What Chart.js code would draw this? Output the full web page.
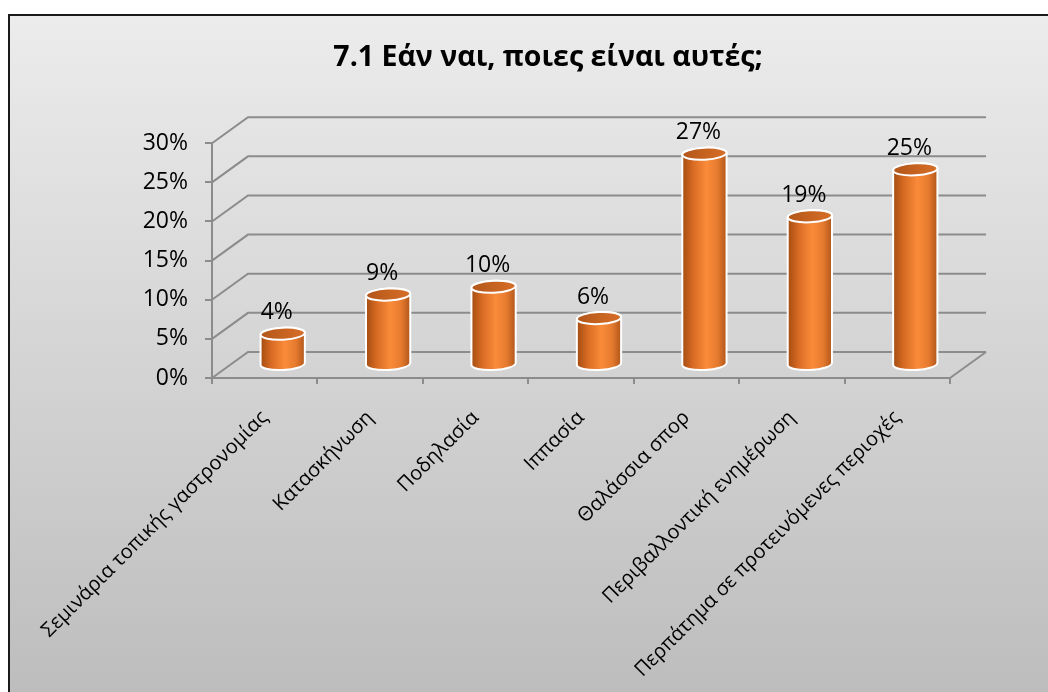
<!DOCTYPE html>
<html>
<head>
<meta charset="utf-8">
<script src="https://cdn.jsdelivr.net/npm/chart.js@4.4.1/dist/chart.umd.min.js"></script>
<style>
  html, body { margin: 0; padding: 0; background: #ffffff; }
  #wrap { width: 1048px; height: 692px; position: relative; }
</style>
</head>
<body>
<div id="wrap"><canvas id="c" width="1048" height="692"></canvas></div>
<script>
const chartTitle = '7.1 Εάν ναι, ποιες είναι αυτές;';
const categories = [
  'Σεμινάρια τοπικής γαστρονομίας',
  'Κατασκήνωση',
  'Ποδηλασία',
  'Ιππασία',
  'Θαλάσσια σπορ',
  'Περιβαλλοντική ενημέρωση',
  'Περπάτημα σε προτεινόμενες περιοχές'
];
const values = [0.04, 0.09, 0.10, 0.06, 0.27, 0.19, 0.25];
const valueLabels = ['4%', '9%', '10%', '6%', '27%', '19%', '25%'];
const yTickValues = [0, 0.05, 0.10, 0.15, 0.20, 0.25, 0.30];
const yTickLabels = ['0%', '5%', '10%', '15%', '20%', '25%', '30%'];

const FONT = "'Open Sans', 'DejaVu Sans', sans-serif";
const GRID = '#8c8c8c';
const DEPTH_X = 36, DEPTH_Y = -26;

const framePlugin = {
  id: 'frame',
  beforeDraw(chart) {
    const ctx = chart.ctx;
    ctx.save();
    ctx.fillStyle = '#ffffff';
    ctx.fillRect(0, 0, chart.width, chart.height);
    const g = ctx.createLinearGradient(0, 14, 0, chart.height);
    g.addColorStop(0, '#ececec');
    g.addColorStop(1, '#bdbdbd');
    ctx.fillStyle = g;
    ctx.fillRect(8, 14, chart.width, chart.height);
    ctx.strokeStyle = '#1a1a1a';
    ctx.lineWidth = 2;
    ctx.beginPath();
    ctx.moveTo(9, chart.height + 2);
    ctx.lineTo(9, 15);
    ctx.lineTo(chart.width + 2, 15);
    ctx.stroke();
    ctx.restore();
  }
};

const gridPlugin = {
  id: 'grid3d',
  beforeDatasetsDraw(chart) {
    const ctx = chart.ctx;
    const ys = chart.scales.y;
    const a = chart.chartArea;
    ctx.save();
    ctx.strokeStyle = GRID;
    ctx.lineWidth = 2;
    yTickValues.forEach(v => {
      const yf = ys.getPixelForValue(v);
      ctx.beginPath();
      ctx.moveTo(a.left, yf);
      ctx.lineTo(a.left + DEPTH_X, yf + DEPTH_Y);
      ctx.lineTo(a.right + DEPTH_X, yf + DEPTH_Y);
      ctx.stroke();
    });
    const yb = ys.getPixelForValue(0);
    ctx.beginPath();
    ctx.moveTo(a.right, yb);
    ctx.lineTo(a.right + DEPTH_X, yb + DEPTH_Y);
    ctx.stroke();
    ctx.restore();
  }
};

function drawCylinder(ctx, cx, topY, botY, r, ry) {
  const tilt = -0.05;
  const body = ctx.createLinearGradient(cx - r, 0, cx + r, 0);
  body.addColorStop(0, '#a44c12');
  body.addColorStop(0.25, '#d96c24');
  body.addColorStop(0.55, '#fa8b3a');
  body.addColorStop(0.8, '#e57a2e');
  body.addColorStop(1, '#b0561a');
  ctx.save();
  ctx.beginPath();
  ctx.moveTo(cx - r, topY);
  ctx.lineTo(cx - r, botY);
  ctx.ellipse(cx, botY, r, ry, tilt, Math.PI, 0, true);
  ctx.lineTo(cx + r, topY);
  ctx.ellipse(cx, topY, r, ry, tilt, 0, Math.PI, true);
  ctx.closePath();
  ctx.fillStyle = body;
  ctx.fill();
  ctx.strokeStyle = '#ffffff';
  ctx.lineWidth = 2;
  ctx.stroke();
  const top = ctx.createLinearGradient(cx - r, 0, cx + r, 0);
  top.addColorStop(0, '#b2561a');
  top.addColorStop(0.6, '#c96521');
  top.addColorStop(1, '#d66e28');
  ctx.beginPath();
  ctx.ellipse(cx, topY, r, ry, tilt, 0, Math.PI * 2);
  ctx.fillStyle = top;
  ctx.fill();
  ctx.stroke();
  ctx.restore();
}

const cylinderPlugin = {
  id: 'cylinders',
  afterDatasetsDraw(chart) {
    const ctx = chart.ctx;
    const meta = chart.getDatasetMeta(0);
    meta.data.forEach((el, i) => {
      const cx = el.x + DEPTH_X / 2;
      const topY = el.y + DEPTH_Y / 2;
      const botY = el.base + DEPTH_Y / 2;
      const r = el.width / 2;
      const ry = 6;
      drawCylinder(ctx, cx, topY, botY, r, ry);
      ctx.save();
      ctx.fillStyle = '#000000';
      ctx.font = "23px " + FONT;
      ctx.textAlign = 'center';
      ctx.textBaseline = 'middle';
      ctx.fillText(valueLabels[i], cx - 6, topY - 21);
      ctx.restore();
    });
  }
};

new Chart(document.getElementById('c'), {
  type: 'bar',
  data: {
    labels: categories,
    datasets: [{
      data: values,
      backgroundColor: 'rgba(0,0,0,0)',
      borderWidth: 0,
      barPercentage: 0.42,
      categoryPercentage: 1.0
    }]
  },
  options: {
    responsive: false,
    animation: false,
    devicePixelRatio: 1,
    layout: { padding: { left: 48, right: 0, top: 0, bottom: 0 } },
    plugins: {
      legend: { display: false },
      tooltip: { enabled: false },
      title: {
        display: true,
        text: chartTitle,
        color: '#000000',
        font: { family: FONT, size: 28.5, weight: 'bold', lineHeight: 1.2 },
        padding: { top: 41, bottom: 68 }
      }
    },
    scales: {
      x: {
        afterFit(s) { s.height = 314; s.paddingLeft = 0; s.paddingRight = 0; },
        grid: { offset: true, drawOnChartArea: false, drawTicks: true, tickLength: 6, color: GRID, lineWidth: 2 },
        border: { display: true, color: GRID, width: 2 },
        ticks: {
          color: '#000000',
          font: { family: FONT, size: 20 },
          minRotation: 45,
          maxRotation: 45,
          autoSkip: false,
          padding: 22
        }
      },
      y: {
        min: 0,
        max: 0.30,
        afterFit(s) { s.width = 164; },
        afterBuildTicks(s) { s.ticks = yTickValues.map(v => ({ value: v })); },
        grid: { drawOnChartArea: false, drawTicks: true, tickLength: 7, color: GRID, lineWidth: 2 },
        border: { display: true, color: GRID, width: 2 },
        ticks: {
          color: '#000000',
          font: { family: FONT, size: 23 },
          padding: 17,
          callback: (v, i) => yTickLabels[i]
        }
      },
      yRight: {
        position: 'right',
        display: true,
        min: 0,
        max: 0.30,
        afterFit(s) { s.width = 98; },
        grid: { display: false, drawTicks: false },
        border: { display: false },
        ticks: { display: false }
      }
    }
  },
  plugins: [framePlugin, gridPlugin, cylinderPlugin]
});
</script>
</body>
</html>
